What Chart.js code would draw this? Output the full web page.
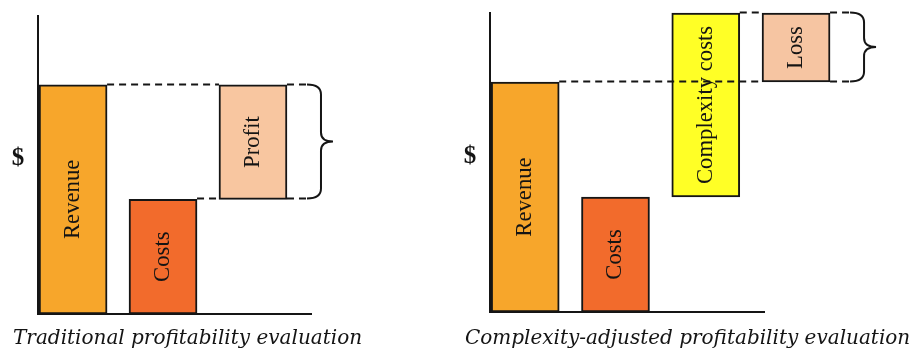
<!DOCTYPE html>
<html>
<head>
<meta charset="utf-8">
<title>Profitability evaluation</title>
<script src="https://cdn.jsdelivr.net/npm/chart.js@4/dist/chart.umd.min.js"></script>
<style>
  html, body { margin: 0; padding: 0; background: #ffffff; }
  #wrap { position: relative; width: 917px; height: 352px; overflow: hidden; background: #ffffff; }
  #wrap canvas { position: absolute; top: 0; }
  #left { left: 0; }
  #right { left: 458px; }
</style>
</head>
<body>
<div id="wrap">
  <canvas id="left" width="458" height="352"></canvas>
  <canvas id="right" width="459" height="352"></canvas>
</div>
<script>
// Traditional view: revenue, costs and the profit between them
const leftCategories = ['Revenue', 'Costs', 'Profit'];
const leftFrom = [0, 0, 50];
const leftTo = [100, 50, 100];

// Complexity-adjusted view: complexity costs push total cost above revenue
const rightCategories = ['Revenue', 'Costs', 'Complexity costs', 'Loss'];
const rightFrom = [0, 0, 50, 100];
const rightTo = [100, 50, 130, 130];

const axisMax = 130;
const axisLabel = '$';
const titles = ['Traditional profitability evaluation', 'Complexity-adjusted profitability evaluation'];

const leftColors = ['#F7A62B', '#F26B2C', '#F8C6A0'];
const rightColors = ['#F7A62B', '#F26B2C', '#FFFF26', '#F6C5A2'];

// Labels inside bars, dashed connectors, the brace, "$" and the caption
const annotate = {
  id: 'annotate',
  afterDatasetsDraw(chart, args, opts) {
    const ctx = chart.ctx;
    const els = chart.getDatasetMeta(0).data;
    const ys = chart.scales.y;
    const area = chart.chartArea;
    ctx.save();

    // dashed connectors between bar edges
    ctx.lineWidth = 2;
    ctx.strokeStyle = '#151515';
    ctx.setLineDash([7, 5]);
    opts.links.forEach(l => {
      const a = els[l.from], b = els[l.to];
      const py = Math.round(ys.getPixelForValue(l.value)) - 0.5;
      ctx.beginPath();
      ctx.moveTo(a.x + a.width / 2, py);
      ctx.lineTo(b.x - b.width / 2, py);
      ctx.stroke();
    });

    // brace to the right of the result bar
    const bEl = els[opts.brace.bar];
    const R = bEl.x + bEl.width / 2;
    const yTop = Math.round(ys.getPixelForValue(opts.brace.high)) - 0.5;
    const yBot = Math.round(ys.getPixelForValue(opts.brace.low)) - 0.5;
    const yMid = (yTop + yBot) / 2;
    const x0 = R + 20, xv = R + 34, xt = R + 46, r = 10, r2 = 9;
    ctx.beginPath();
    ctx.moveTo(R, yTop); ctx.lineTo(x0, yTop);
    ctx.moveTo(R, yBot); ctx.lineTo(x0, yBot);
    ctx.stroke();
    ctx.setLineDash([]);
    ctx.beginPath();
    ctx.moveTo(x0, yTop);
    ctx.quadraticCurveTo(xv, yTop, xv, yTop + r);
    ctx.lineTo(xv, yMid - r2);
    ctx.quadraticCurveTo(xv, yMid, xt, yMid);
    ctx.quadraticCurveTo(xv, yMid, xv, yMid + r2);
    ctx.lineTo(xv, yBot - r);
    ctx.quadraticCurveTo(xv, yBot, x0, yBot);
    ctx.stroke();

    // category names written up the bars
    ctx.fillStyle = '#141414';
    ctx.font = '22.7px "Liberation Serif"';
    ctx.textAlign = 'center';
    ctx.textBaseline = 'middle';
    els.forEach((el, i) => {
      ctx.save();
      ctx.translate(el.x, (el.y + el.base) / 2);
      ctx.rotate(-Math.PI / 2);
      ctx.fillText(opts.labels[i], 0, 0);
      ctx.restore();
    });

    // axis symbol
    ctx.font = 'bold 25px "Liberation Serif"';
    ctx.fillText(axisLabel, area.left - 20, area.top + 0.48 * (area.bottom - area.top));

    // caption under the chart
    ctx.font = 'italic 20px "DejaVu Serif"';
    ctx.textAlign = 'left';
    ctx.textBaseline = 'alphabetic';
    ctx.fillText(opts.caption, opts.captionX, 344);
    ctx.restore();
  }
};

function makeChart(id, cats, from, to, colors, pad, plug) {
  return new Chart(document.getElementById(id), {
    type: 'bar',
    data: {
      datasets: [{
        data: cats.map((c, i) => ({ x: i, y: [from[i], to[i]] })),
        backgroundColor: colors,
        borderColor: '#151515',
        borderWidth: 2,
        borderSkipped: false,
        barThickness: 68,
        clip: false
      }]
    },
    options: {
      responsive: false,
      animation: false,
      events: [],
      layout: { padding: pad },
      plugins: {
        legend: { display: false },
        tooltip: { enabled: false },
        annotate: plug
      },
      scales: {
        x: {
          type: 'linear',
          offset: false,
          min: -0.39,
          max: 2.645,
          grid: { display: false, drawTicks: false },
          ticks: { display: false },
          border: { display: true, color: '#151515', width: 2 }
        },
        y: {
          min: 0,
          max: axisMax,
          grid: { display: false, drawTicks: false },
          ticks: { display: false },
          border: { display: true, color: '#151515', width: 2 }
        }
      }
    },
    plugins: [annotate]
  });
}

makeChart('left', leftCategories, leftFrom, leftTo, leftColors,
  { left: 38, right: 147, top: 16, bottom: 38 },
  {
    labels: leftCategories,
    links: [{ from: 0, to: 2, value: leftTo[0] }, { from: 1, to: 2, value: leftTo[1] }],
    brace: { bar: 2, low: leftFrom[2], high: leftTo[2] },
    caption: titles[0],
    captionX: 13
  });

makeChart('right', rightCategories, rightFrom, rightTo, rightColors,
  { left: 32, right: 153, top: 13, bottom: 40 },
  {
    labels: rightCategories,
    links: [{ from: 0, to: 3, value: rightTo[0] }, { from: 2, to: 3, value: rightTo[2] }],
    brace: { bar: 3, low: rightFrom[3], high: rightTo[3] },
    caption: titles[1],
    captionX: 7
  });
</script>
</body>
</html>
